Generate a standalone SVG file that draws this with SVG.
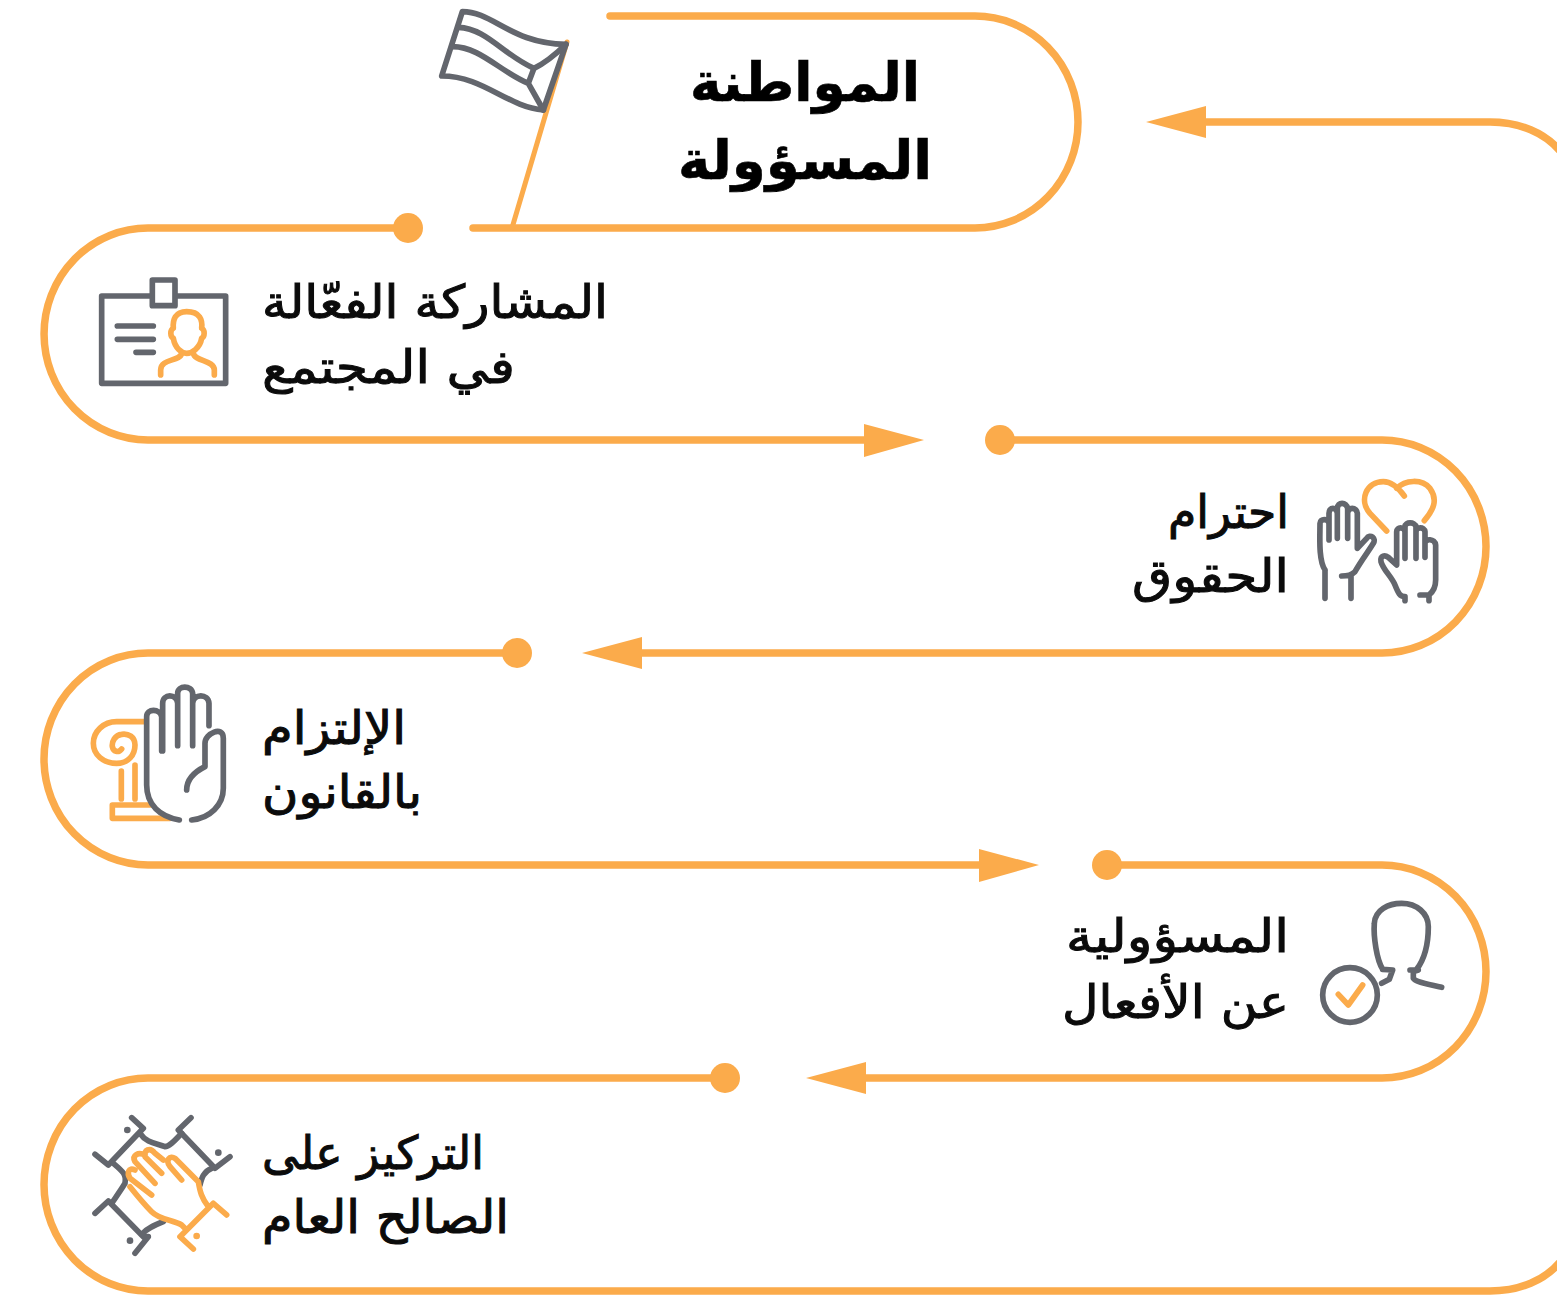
<svg xmlns="http://www.w3.org/2000/svg" width="1557" height="1302" viewBox="0 0 1557 1302">
<style>
.c{fill:none;stroke:#fbab4b;stroke-width:7.500;stroke-linecap:round}
.a{fill:#fbab4b}
.g{fill:none;stroke:#63666d;stroke-width:17;stroke-linecap:round;stroke-linejoin:round}
.o{fill:none;stroke:#fbab4b;stroke-width:17;stroke-linecap:round;stroke-linejoin:round}
.t{font-family:"DejaVu Sans",sans-serif;font-size:46px;fill:#0b0b0b;stroke:#0b0b0b;stroke-width:1}
.h{font-family:"DejaVu Sans",sans-serif;font-size:54px;font-weight:bold;fill:#000;stroke:#000;stroke-width:.6}
</style>
<rect width="1557" height="1302" fill="#fff"/>
<g id="connectors">
<path class="c" d="M610 16H975A103 106 0 0 1 975 228H473"/>
<path class="c" style="stroke-width:5" d="M567 42L512 228"/>
<path class="c" d="M408 228H148A104 106 0 0 0 148 440H870"/>
<polygon class="a" points="924,440 864,424 864,457"/>
<path class="c" d="M1000 440H1382A104 106.500 0 0 1 1382 653H636"/>
<polygon class="a" points="582,653 642,637 642,669"/>
<path class="c" d="M517 653H148A104 106 0 0 0 148 865H985"/>
<polygon class="a" points="1039,865 979,849 979,882"/>
<path class="c" d="M1107 865H1382A104 106.500 0 0 1 1382 1078H860"/>
<polygon class="a" points="806,1078 866,1062 866,1094"/>
<path class="c" d="M725 1078H148A104 106.500 0 0 0 148 1291H1490C1520 1291 1545 1280 1560 1262"/>
<path class="c" d="M1200 122H1490C1520 122 1545 133 1560 151"/>
<polygon class="a" points="1146,122 1206,106 1206,138"/>
<circle class="a" cx="408" cy="228" r="15"/>
<circle class="a" cx="1000" cy="440" r="15"/>
<circle class="a" cx="517" cy="653" r="15"/>
<circle class="a" cx="1107" cy="865" r="15"/>
<circle class="a" cx="725" cy="1078" r="15"/>
</g>
<g id="node-title">
<text class="h" x="690" y="101" textLength="230" lengthAdjust="spacingAndGlyphs">المواطنة</text>
<text class="h" x="678" y="179" textLength="254" lengthAdjust="spacingAndGlyphs">المسؤولة</text>
<g transform="translate(430 0) scale(.3333)">
<path class="g" d="M97 35C190 35 240 130 408 133L340 330C230 320 160 228 35 228Z"/>
<path class="g" d="M85 82C170 85 220 165 312 205M68 140C150 140 210 215 295 250M408 133C370 170 345 190 312 205L295 250L340 330"/>
</g>
</g>
<g id="node-participation">
<text class="t" x="262" y="318" textLength="346" lengthAdjust="spacingAndGlyphs">المشاركة الفعّالة</text>
<text class="t" x="262" y="383" textLength="253" lengthAdjust="spacingAndGlyphs">في المجتمع</text>
<g transform="translate(90 270) scale(.3333)">
<path class="g" d="M182 78H35V340H407V78H257M187 30H255V107H187Z"/>
<path class="g" d="M82 168H190M82 208H190M138 247H190"/>
<path class="o" d="M290 125C255 125 248 150 250 175C240 180 240 200 250 205C255 235 275 250 290 250C305 250 330 235 335 205C345 200 345 180 335 175C338 150 330 125 290 125ZM212 315V300C212 265 270 275 275 250M373 315V300C373 270 315 275 310 250"/>
</g>
</g>
<g id="node-rights">
<text class="t" x="1168" y="528" textLength="121" lengthAdjust="spacingAndGlyphs">احترام</text>
<text class="t" x="1132" y="592" textLength="157" lengthAdjust="spacingAndGlyphs">الحقوق</text>
<g transform="translate(1305 470) scale(.3333)">
<path class="o" d="M245 183L195 130C160 90 185 35 235 35C265 35 285 60 298 78M275 55C300 30 350 25 375 55C400 90 385 120 358 152"/>
<path class="g" d="M60 300C40 270 45 200 45 160C45 145 70 145 72 160V210M72 210V130C72 110 95 110 97 130V205M97 205V115C97 95 125 95 128 115V205M128 205V130C128 110 155 110 157 130V235L185 205C195 190 215 205 205 220C190 245 170 270 150 305C140 315 125 318 110 318M60 300V385M138 318V385"/>
<path class="g" d="M300 380C285 380 280 370 270 345C260 320 235 300 228 275C225 255 240 255 250 262L275 285V185C275 170 298 170 300 185M300 265V170C300 155 330 155 333 170V265M333 265V185C333 170 358 170 360 185V262M360 262V220C360 205 390 205 392 225V330C392 350 385 365 372 375L345 375M372 375V392M300 380V392"/>
</g>
</g>
<g id="node-law">
<text class="t" x="262" y="744" textLength="144" lengthAdjust="spacingAndGlyphs">الإلتزام</text>
<text class="t" x="262" y="808" textLength="160" lengthAdjust="spacingAndGlyphs">بالقانون</text>
<g transform="translate(80 675) scale(.3333)">
<path class="o" d="M195 140H110C70 140 40 170 40 205C40 240 70 265 110 265C145 265 165 240 165 210C165 185 145 175 125 178C105 180 95 200 97 215C100 230 115 235 125 222M124 288V372M165 270V372M210 390H97V430H270"/>
<path class="g" d="M298 435C240 425 200 390 200 330V125C200 100 240 100 245 125V228M248 228V85C248 55 290 55 293 85V212M293 212V55C293 30 335 30 338 55V212M338 212V85C340 55 385 55 387 85V152M320 345C320 310 345 290 375 275V205C375 175 430 150 430 190V340C430 390 390 430 335 435"/>
</g>
</g>
<g id="node-responsibility">
<text class="t" x="1066" y="952" textLength="223" lengthAdjust="spacingAndGlyphs">المسؤولية</text>
<text class="t" x="1062" y="1018" textLength="227" lengthAdjust="spacingAndGlyphs">عن الأفعال</text>
<g transform="translate(1310 890) scale(.3333)">
<circle class="g" cx="120" cy="315" r="82"/>
<path class="o" d="M85 313L115 345L158 285"/>
<path class="g" d="M218 238C200 210 190 140 193 100C195 60 235 40 275 40C320 40 355 70 355 110C355 160 345 205 320 238M218 238L248 240L238 268L215 280M300 240H325L310 245V265C315 275 340 280 395 292"/>
</g>
</g>
<g id="node-common-good">
<text class="t" x="262" y="1169" textLength="222" lengthAdjust="spacingAndGlyphs">التركيز على</text>
<text class="t" x="262" y="1233" textLength="247" lengthAdjust="spacingAndGlyphs">الصالح العام</text>
<g transform="translate(80 1105) scale(.3333)">
<path class="g" d="M155 38L190 70L85 180L45 148M333 38L295 75L405 190L450 155M45 325L85 288L190 395L205 395L165 445"/>
<path class="g" d="M180 85C200 115 230 115 255 125C270 125 290 100 305 85M100 175C130 200 140 210 135 235C120 260 105 280 95 295M395 190C370 200 365 220 360 240M185 388C200 370 225 360 250 350"/>
<circle cx="142" cy="75" r="10" fill="#63666d"/><circle cx="415" cy="143" r="10" fill="#63666d"/><circle cx="150" cy="407" r="10" fill="#63666d"/>
<path class="o" d="M300 395L400 295L440 330M300 395L340 432M385 305C365 280 360 260 355 230L285 160C270 150 255 165 270 185L305 225M250 165L225 145C210 125 190 135 195 155L245 205M195 150C175 140 155 150 165 170L225 235M165 195C145 185 140 205 150 220L215 270M150 245C170 270 190 295 215 320C240 345 280 345 305 360L320 375"/>
<circle cx="350" cy="393" r="10" fill="#fbab4b"/>
</g>
</g>
</svg>
